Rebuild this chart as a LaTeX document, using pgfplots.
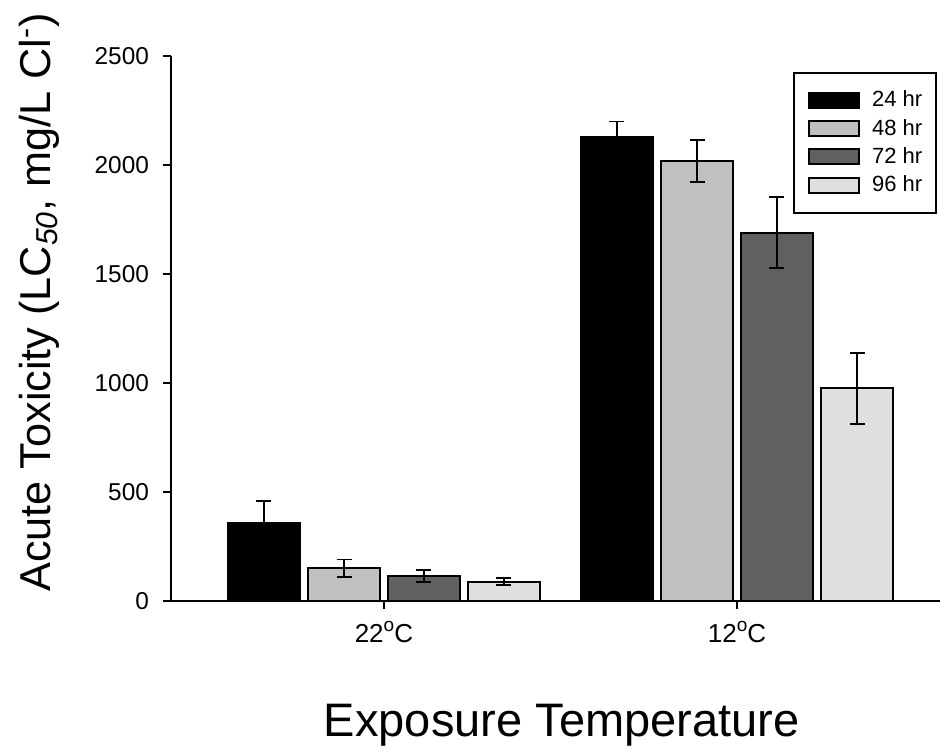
\documentclass[border=0pt]{standalone}
\usepackage{pgfplots}
\pgfplotsset{compat=1.18}
\usepackage{pgfplotstable}
\usepackage{fontspec}
\setmainfont{Liberation Sans}

\definecolor{c24}{HTML}{000000}
\definecolor{c48}{HTML}{C0C0C0}
\definecolor{c72}{HTML}{606060}
\definecolor{c96}{HTML}{DFDFDF}

% degree-style superscript o used in the temperature labels
\newcommand{\dego}{\raisebox{0.42em}{\fontsize{9.5}{10}\selectfont o}}

% LC50 means and standard errors: x = 0 (22 C), x = 1 (12 C)
\pgfplotstableread{
x  y     e
0  358   102
1  2127  73
}\tblA
\pgfplotstableread{
x  y     e
0  150   40
1  2018  95
}\tblB
\pgfplotstableread{
x  y     e
0  115   28
1  1690  162
}\tblC
\pgfplotstableread{
x  y     e
0  88    16
1  975   162
}\tblD

\begin{document}
\begin{tikzpicture}
\path[use as bounding box] (0,0) rectangle (470pt,375.5pt);
\begin{axis}[
  at={(85.5pt,75pt)}, anchor=south west,
  scale only axis, width=384.5pt, height=272.5pt,
  xmin=-0.603, xmax=1.575, ymin=0, ymax=2500,
  axis lines=left, axis line style={-, line width=1pt},
  tick style={line width=1pt, black}, major tick length=4pt, tick align=outside,
  xtick={0,1}, xticklabels={22\dego C, 12\dego C},
  ytick={0,500,1000,1500,2000,2500},
  /pgf/number format/assume math mode=true,
  /pgf/number format/1000 sep={},
  scaled y ticks=false,
  yticklabel style={font=\fontsize{12.2}{14}\selectfont, anchor=east, xshift=-3.5pt},
  xticklabel style={font=\fontsize{13}{15}\selectfont, anchor=base, yshift=-16.5pt},
  xlabel={Exposure Temperature},
  ylabel={Acute Toxicity (LC\textsubscript{\textit{50}}, mg/L Cl\textsuperscript{-})},
  xlabel style={font=\fontsize{23.5}{28}\selectfont, at={(axis description cs:0.508,-0.2495)}, anchor=base},
  ylabel style={font=\fontsize{21.6}{26}\selectfont, at={(axis description cs:-0.157,0.548)}, anchor=base, rotate=0},
  ybar, bar width=0.204,
  every axis plot/.append style={draw=black, line width=1pt},
  error bars/y dir=both, error bars/y explicit,
  error bars/error bar style={line width=0.9pt, black},
  error bars/error mark options={rotate=90, mark size=3.75pt, line width=0.9pt, black},
  legend image code/.code={\draw[#1] (0pt,-3.75pt) rectangle (25pt,3.75pt);},
  legend cell align=left,
  legend style={at={(axis description cs:0.809,0.9706)}, anchor=north west,
    font=\fontsize{11}{13}\selectfont, draw=black, line width=1pt,
    inner xsep=7pt, inner ysep=9pt, row sep=4.65pt, column sep=6pt,
    nodes={inner sep=0pt}},
]
\addplot[fill=c24, bar shift=-0.34] table[x=x, y=y, y error=e] {\tblA};
\addplot[fill=c48, bar shift=-0.113] table[x=x, y=y, y error=e] {\tblB};
\addplot[fill=c72, bar shift=0.113] table[x=x, y=y, y error=e] {\tblC};
\addplot[fill=c96, bar shift=0.34] table[x=x, y=y, y error=e] {\tblD};
\legend{24 hr, 48 hr, 72 hr, 96 hr}
\end{axis}
\end{tikzpicture}
\end{document}
